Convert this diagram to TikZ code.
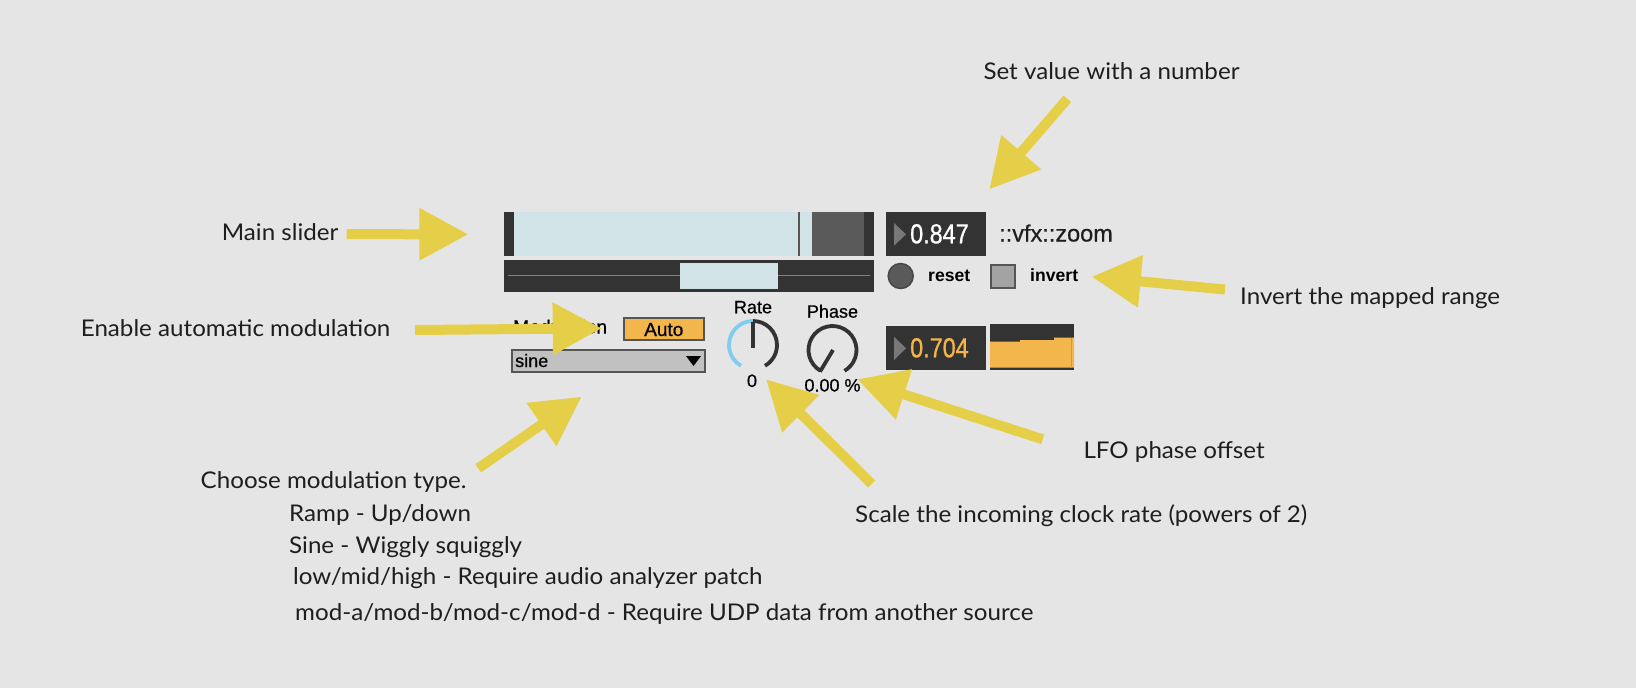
\documentclass[tikz,border=0pt]{standalone}
\usepackage{fontspec}
\setmainfont{Lato}[FakeStretch=1.05]
\newfontfamily\uifont{Liberation Sans}[FakeBold=0.6]
\newfontfamily\uibold{Liberation Sans Bold}
\newfontfamily\numfont{Liberation Sans}[FakeStretch=0.85,FakeBold=0.8]
\usetikzlibrary{arrows.meta}
\definecolor{bg}{HTML}{E5E5E5}
\definecolor{dark}{HTML}{333333}
\definecolor{sl}{HTML}{D2E3E8}
\definecolor{thumb}{HTML}{5A5A5A}
\definecolor{tri}{HTML}{787878}
\definecolor{ylw}{HTML}{E6CF48}
\definecolor{orng}{HTML}{F2B64D}
\definecolor{orngtxt}{HTML}{F4B548}
\definecolor{knobblue}{HTML}{82CCF0}
\definecolor{txt}{HTML}{1E1E1E}
\definecolor{bord}{HTML}{555555}
\definecolor{resetc}{HTML}{5A5A5A}
\definecolor{invc}{HTML}{A3A3A3}
\definecolor{dropc}{HTML}{C1C1C1}
\definecolor{linec}{HTML}{808080}
\begin{document}
\begin{tikzpicture}[x=1pt,y=-1pt,
  lbl/.style={font=\fontsize{23}{27}\selectfont, text=txt, anchor=base west, inner sep=0pt},
  ui/.style={font=\uifont\fontsize{18}{20}\selectfont, text=black, inner sep=0pt},
  uib/.style={font=\uibold\fontsize{17.6}{20}\selectfont, text=black, inner sep=0pt, anchor=base west},
  numtxt/.style={font=\numfont\fontsize{27.5}{30}\selectfont, anchor=base west, inner sep=0pt},
  yarrow/.style={draw=ylw, line width=10pt, -{Triangle[width=50pt,length=49pt]}},
  knob/.style={line width=3.8pt},
  ]
\fill[bg] (0,0) rectangle (1636,688);
\useasboundingbox (0,0) rectangle (1636,688);

% main slider
\fill[dark] (504,211.7) rectangle (874,256);
\fill[sl] (514,211.7) rectangle (812,256);
\draw[line width=2pt, bord] (799,211.7) -- (799,256);
\fill[thumb] (812,211.7) rectangle (864,256);
% range slider
\fill[dark] (504,260) rectangle (874,291.7);
\draw[line width=1.5pt, linec] (508,275.7) -- (870,275.7);
\fill[sl] (680,263.3) rectangle (777.7,289);

% number box
\fill[dark] (886,212) rectangle (986,255.7);
\fill[tri] (894,223) -- (906,234.3) -- (894,245.7) -- cycle;
\node[numtxt, text=white] (num1) at (910,243.3) {0.847};
\node[ui, font=\uifont\fontsize{23.5}{26}\selectfont, text=txt, anchor=base west] (pname) at (999,241.5) {::vfx::zoom};

% reset / invert
\filldraw[fill=resetc, draw=dark!90, line width=1.5pt] (900.7,276) circle[radius=12.5];
\node[uib] (reset) at (928,281.5) {reset};
\filldraw[fill=invc, draw=bord, line width=2pt] (991,265) rectangle (1014.7,288);
\node[uib] (invert) at (1030,281.5) {invert};

% modulation
\node[ui, font=\uifont\fontsize{19.2}{21}\selectfont, anchor=base west] (modlbl) at (513,333.5) {Modulation};
\filldraw[fill=orng, draw=bord, line width=2pt] (623.7,317.7) rectangle (704,340);
\node[ui, font=\uifont\fontsize{19}{21}\selectfont, anchor=base] (auto) at (663.8,336) {Auto};
\filldraw[fill=dropc, draw=bord, line width=2pt] (511.7,350) rectangle (704.7,372.3);
\node[ui, anchor=base west] (sine) at (515,367) {sine};
\fill[black] (686,356) -- (701,356) -- (693.5,366) -- cycle;

% rate knob
\node[ui, anchor=base] (rate) at (753,313.3) {Rate};
\coordinate (rk) at (753,345);
\draw[knob, knobblue] (rk) ++(-240:24) arc[start angle=-240, end angle=-90, radius=24];
\draw[knob, dark] (rk) ++(-90:24) arc[start angle=-90, end angle=60, radius=24];
\draw[knob, dark] (753,348) -- (753,322);
\node[ui, anchor=base] (ratev) at (752,387) {0};

% phase knob
\node[ui, anchor=base] (phase) at (832.5,317.7) {Phase};
\coordinate (pk) at (832.5,350);
\draw[knob, dark] (pk) ++(-240:24) arc[start angle=-240, end angle=60, radius=24];
\draw[knob, dark] (833,350) -- (820,371.7);
\node[ui, anchor=base] (phasev) at (832.5,391.5) {0.00 \%};

% lfo value
\fill[dark] (886,326) rectangle (986,370);
\fill[tri] (894,336.7) -- (906,348.3) -- (894,360) -- cycle;
\node[numtxt, text=orngtxt] (num2) at (910,357.3) {0.704};

% lfo graph
\fill[dark] (990,324) rectangle (1074,370);
\fill[orng] (990,341.7) -- (1020,341.7) -- (1020,340) -- (1054,340) -- (1054,337.7) -- (1074,337.7) -- (1074,367.7) -- (990,367.7) -- cycle;
\draw[orng!85!black, line width=1pt] (1071,338) -- (1071,367.7);

% labels
\node[lbl] (lmain) at (221.7,240.7) {Main slider};
\node[lbl] (lset) at (983.3,79) {Set value with a number};
\node[lbl] (linv) at (1240,304) {Invert the mapped range};
\node[lbl] (lena) at (80.7,336) {Enable automatic modulation};
\node[lbl] (llfo) at (1083.3,458.7) {LFO phase offset};
\node[lbl] (lscale) at (855,522) {Scale the incoming clock rate (powers of 2)};
\node[lbl] (lchoose) at (200.5,488.3) {Choose modulation type.};
\node[lbl] (lramp) at (289,521.7) {Ramp - Up/down};
\node[lbl] (lsine) at (289,553.3) {Sine - Wiggly squiggly};
\node[lbl] (llow) at (293,584) {low/mid/high - Require audio analyzer patch};
\node[lbl] (lmod) at (295,620) {mod-a/mod-b/mod-c/mod-d - Require UDP data from another source};

% arrows
\coordinate (a1t) at (346.7,234.2); \coordinate (a1h) at (468.3,234.3);
\coordinate (a2t) at (1067.3,98.8); \coordinate (a2h) at (989.3,189.3);
\coordinate (a3t) at (1225,289.5); \coordinate (a3h) at (1091.7,276.7);
\coordinate (a4t) at (415,330); \coordinate (a4h) at (601.7,328.3);
\coordinate (a5t) at (478.3,468.3); \coordinate (a5h) at (581.7,396.7);
\coordinate (a6t) at (871.7,484); \coordinate (a6h) at (766,379.3);
\coordinate (a7t) at (1042.7,439.3); \coordinate (a7h) at (857.3,379.3);
\draw[yarrow] (a1t) -- (a1h);
\draw[yarrow] (a2t) -- (a2h);
\draw[yarrow] (a3t) -- (a3h);
\draw[yarrow] (a4t) -- (a4h);
\draw[yarrow] (a5t) -- (a5h);
\draw[yarrow] (a6t) -- (a6h);
\draw[yarrow] (a7t) -- (a7h);
\end{tikzpicture}
\end{document}
